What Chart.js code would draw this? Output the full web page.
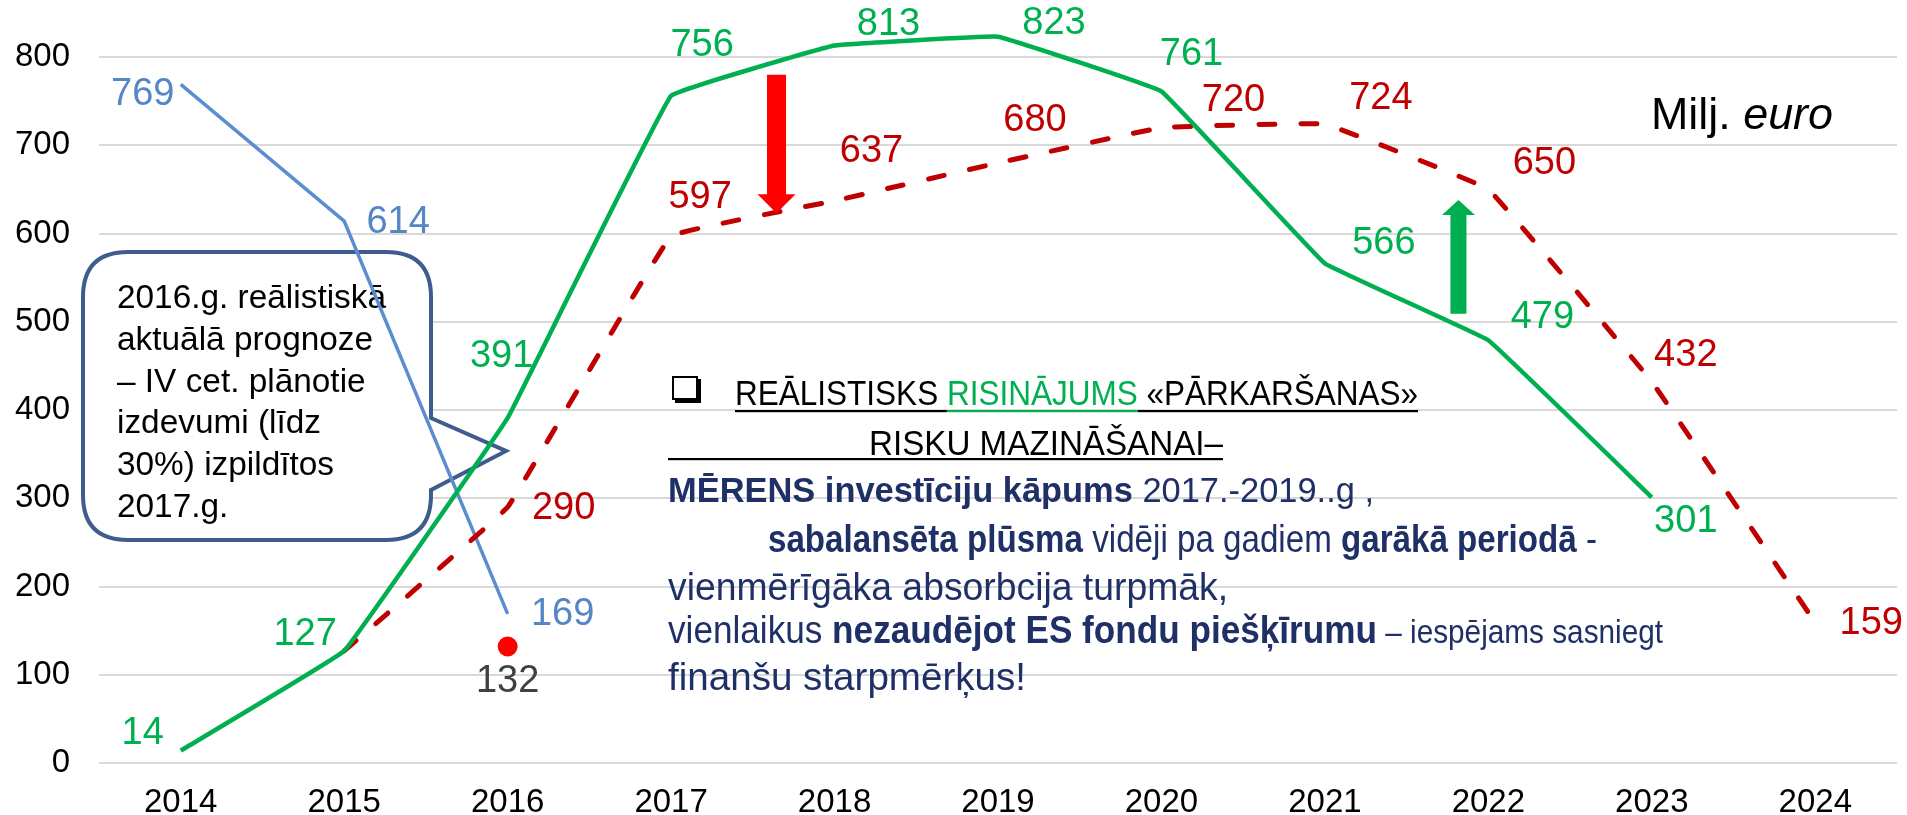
<!DOCTYPE html>
<html lang="lv">
<head>
<meta charset="UTF-8" />
<title>ES fondu investīcijas</title>
<script src="https://cdn.jsdelivr.net/npm/chart.js"></script>
<style>
  html, body { margin: 0; padding: 0; background: #fff; }
  .chart-box { width: 1907px; height: 815px; }
</style>
</head>
<body>
<div class="chart-box"><canvas id="myChart" width="1907" height="815"></canvas></div>
<script>
// dati (milj. euro)
const years = ["2014", "2015", "2016", "2017", "2018", "2019", "2020", "2021", "2022", "2023", "2024"];
const planValues = [14, 127, 391, 756, 813, 823, 761, 566, 479, 301, null];      // zaļā līnija
const realValues = [null, 127, 290, 597, 637, 680, 720, 724, 650, 432, 159];     // reālistiskā prognoze
const oldValues = [769, 614, 169, null, null, null, null, null, null, null, null]; // zilā līnija
const factValues = [null, null, 132, null, null, null, null, null, null, null, null]; // punkts 2016
const yTicks = [0, 100, 200, 300, 400, 500, 600, 700, 800];

// kur likt skaitļus pret punktu (dx, dy)
const labelShift = {
  plan: [[-38, -17], [-39, -16], [-6, -61], [31, -50], [54, -21], [56, -13], [30, -37], [59, -20], [54, -23], [34, 24], null],
  real: [null, null, [56, 1], [29, -39], [37, -49], [37, -42], [72, -27], [56, -26], [56, -26], [34, -26], [56, 1]],
  old: [[-38, 10], [54, 1], [55, 1]],
  fact: [null, null, [0, 35]]
};

const FONT = '"Liberation Sans", Arial, sans-serif';
const NAVY = "#1f3067";

Chart.defaults.font.family = FONT;

function drawRuns(ctx, runs, x, y, opt) {
  let total = 0;
  runs.forEach(function (r) {
    ctx.font = (r.italic ? "italic " : "") + (r.bold ? "bold " : "") + (r.size || opt.size) + "px " + FONT;
    r.w = ctx.measureText(r.t).width;
    total += r.w;
  });
  const sx = opt.sx || (opt.width ? opt.width / total : 1);
  ctx.save();
  ctx.translate(x, y);
  ctx.scale(sx, 1);
  ctx.textAlign = "left";
  ctx.textBaseline = "alphabetic";
  let cx = 0;
  runs.forEach(function (r) {
    ctx.font = (r.italic ? "italic " : "") + (r.bold ? "bold " : "") + (r.size || opt.size) + "px " + FONT;
    ctx.fillStyle = r.c || opt.color;
    ctx.fillText(r.t, cx, 0);
    if (r.under) {
      ctx.fillRect(cx, r.under, r.w, 2.2);
    }
    cx += r.w;
  });
  ctx.restore();
  return sx;
}

// izsaukuma rāmis ar tekstu
const calloutPlugin = {
  id: "callout",
  beforeDatasetsDraw(chart) {
    const ctx = chart.ctx;
    const l = 83, t = 252, r = 431, b = 540, rad = 45;
    ctx.save();
    ctx.beginPath();
    ctx.moveTo(l + rad, t);
    ctx.lineTo(r - rad, t);
    ctx.quadraticCurveTo(r, t, r, t + rad);
    ctx.lineTo(r, 418);
    ctx.lineTo(506, 451);
    ctx.lineTo(r, 490);
    ctx.lineTo(r, b - rad);
    ctx.quadraticCurveTo(r, b, r - rad, b);
    ctx.lineTo(l + rad, b);
    ctx.quadraticCurveTo(l, b, l, b - rad);
    ctx.lineTo(l, t + rad);
    ctx.quadraticCurveTo(l, t, l + rad, t);
    ctx.closePath();
    ctx.fillStyle = "#fff";
    ctx.fill();
    ctx.lineWidth = 4;
    ctx.strokeStyle = "#3e5d8e";
    ctx.stroke();

    const lines = ["2016.g. reālistiskā", "aktuālā prognoze", "– IV cet. plānotie", "izdevumi (līdz", "30%) izpildītos", "2017.g."];
    let sx = null;
    lines.forEach(function (s, i) {
      const res = drawRuns(ctx, [{ t: s }], 117, 308 + i * 41.8, { size: 33, color: "#000", width: i === 0 ? 269 : null, sx: sx });
      if (i === 0) sx = res;
    });
    ctx.restore();
  }
};

// teksti un bultas
const notesPlugin = {
  id: "notes",
  afterDatasetsDraw(chart) {
    const ctx = chart.ctx;
    const xs = chart.scales.x, ys = chart.scales.y;

    // bultas
    const arrows = [
      { at: 3.645, from: 780, to: 623, color: "#ff0000", shaft: 19, head: 38, headLen: 19 },
      { at: 7.817, from: 509, to: 638, color: "#00b050", shaft: 16, head: 33, headLen: 15 }
    ];
    arrows.forEach(function (a) {
      const x = xs.getPixelForValue(a.at);
      const y0 = ys.getPixelForValue(a.from);
      const y1 = ys.getPixelForValue(a.to);
      const dir = y1 > y0 ? 1 : -1;
      const yh = y1 - dir * a.headLen;
      ctx.save();
      ctx.fillStyle = a.color;
      ctx.beginPath();
      ctx.moveTo(x - a.shaft / 2, y0);
      ctx.lineTo(x + a.shaft / 2, y0);
      ctx.lineTo(x + a.shaft / 2, yh);
      ctx.lineTo(x + a.head / 2, yh);
      ctx.lineTo(x, y1);
      ctx.lineTo(x - a.head / 2, yh);
      ctx.lineTo(x - a.shaft / 2, yh);
      ctx.closePath();
      ctx.fill();
      ctx.restore();
    });

    // skaitļi pie punktiem
    ctx.save();
    ctx.font = "38px " + FONT;
    ctx.textAlign = "center";
    ctx.textBaseline = "middle";
    chart.data.datasets.forEach(function (ds, di) {
      const meta = chart.getDatasetMeta(di);
      const shifts = labelShift[ds.key];
      meta.data.forEach(function (pt, i) {
        const v = ds.data[i];
        if (v === null || v === undefined || !shifts[i]) return;
        ctx.fillStyle = ds.labelColor;
        ctx.fillText(String(v), pt.x + shifts[i][0], pt.y + shifts[i][1]);
      });
    });
    ctx.restore();

    // Milj. euro
    drawRuns(ctx, [{ t: "Milj. " }, { t: "euro", italic: true }], 1651, 129, { size: 44, color: "#000", width: 182 });

    // rūtiņa
    ctx.save();
    ctx.strokeStyle = "#000";
    ctx.lineWidth = 2;
    ctx.strokeRect(673, 377, 24, 22);
    ctx.fillStyle = "#000";
    ctx.fillRect(697, 379, 4, 24);
    ctx.fillRect(675, 399, 26, 4);
    ctx.restore();

    // galvenais teksts
    drawRuns(ctx, [
      { t: "REĀLISTISKS ", c: "#000", under: 5 },
      { t: "RISINĀJUMS", c: "#00b050", under: 5 },
      { t: " «PĀRKARŠANAS»", c: "#000", under: 5 }
    ], 735, 405, { size: 35, width: 683 });
    drawRuns(ctx, [{ t: "RISKU MAZINĀŠANAI–", c: "#000" }], 869, 455, { size: 35, width: 354 });
    ctx.fillStyle = "#000";
    ctx.fillRect(668, 458, 555, 2.2);

    drawRuns(ctx, [
      { t: "MĒRENS investīciju kāpums", bold: true },
      { t: " 2017.-2019..g ," }
    ], 668, 502, { size: 35, color: NAVY, width: 706 });
    drawRuns(ctx, [
      { t: "sabalansēta plūsma", bold: true },
      { t: " vidēji pa gadiem " },
      { t: "garākā periodā", bold: true },
      { t: " -" }
    ], 768, 552, { size: 39, color: NAVY, width: 829 });
    drawRuns(ctx, [{ t: "vienmērīgāka absorbcija turpmāk," }], 668, 600, { size: 39, color: NAVY, width: 560 });
    drawRuns(ctx, [
      { t: "vienlaikus " },
      { t: "nezaudējot ES fondu piešķīrumu", bold: true },
      { t: " – iespējams sasniegt", size: 33 }
    ], 668, 643, { size: 39, color: NAVY, width: 995 });
    drawRuns(ctx, [{ t: "finanšu starpmērķus!" }], 668, 690, { size: 39, color: NAVY, width: 358 });
  }
};

const ctx = document.getElementById("myChart");
const myChart = new Chart(ctx, {
  type: "line",
  data: {
    labels: years,
    datasets: [
      {
        key: "plan",
        data: planValues,
        borderColor: "#00b050",
        labelColor: "#00b050",
        borderWidth: 4.5,
        tension: 0.05,
        pointRadius: 0,
        clip: false
      },
      {
        key: "real",
        data: realValues,
        borderColor: "#c00000",
        labelColor: "#c00000",
        borderWidth: 5,
        borderDash: [16, 26],
        borderCapStyle: "round",
        tension: 0.05,
        pointRadius: 0,
        clip: false
      },
      {
        key: "old",
        data: oldValues,
        borderColor: "#5b8dcf",
        labelColor: "#5586c6",
        borderWidth: 3.5,
        tension: 0,
        pointRadius: 0,
        clip: false
      },
      {
        key: "fact",
        data: factValues,
        showLine: false,
        pointRadius: 10,
        pointBackgroundColor: "#ff0000",
        pointBorderWidth: 0,
        labelColor: "#404040",
        clip: false
      }
    ]
  },
  options: {
    responsive: false,
    animation: false,
    devicePixelRatio: 1,
    layout: { padding: { top: 57, right: 9, bottom: 0, left: 0 } },
    plugins: {
      legend: { display: false },
      tooltip: { enabled: false }
    },
    scales: {
      x: {
        offset: true,
        grid: { display: false },
        border: { display: false },
        ticks: { color: "#000", font: { size: 33 }, padding: 12, maxRotation: 0, autoSkip: false },
        afterFit: function (scale) { scale.height = 52; }
      },
      y: {
        min: 0,
        max: 800,
        grid: { color: "#d9d9d9", lineWidth: 2, drawTicks: false },
        border: { display: false },
        ticks: { color: "#000", font: { size: 33 }, padding: 29 },
        afterBuildTicks: function (scale) { scale.ticks = yTicks.map(function (v) { return { value: v }; }); },
        afterFit: function (scale) { scale.width = 99; }
      }
    }
  },
  plugins: [calloutPlugin, notesPlugin]
});
</script>
</body>
</html>
